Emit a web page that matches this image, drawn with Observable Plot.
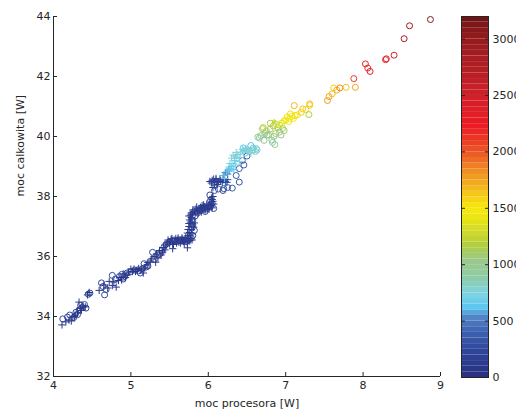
<!DOCTYPE html>
<html>
<head>
<meta charset="utf-8">
<script src="https://cdn.jsdelivr.net/npm/d3@7"></script>
<script src="https://cdn.jsdelivr.net/npm/@observablehq/plot@0.6"></script>
<style>
  html, body { margin: 0; padding: 0; background: #fff; }
  #chart { position: relative; width: 516px; height: 418px; overflow: hidden; }
  #chart svg { position: absolute; left: 0; top: 0; }
</style>
</head>
<body>
<div id="chart"></div>
<script>
// Axis ticks
const xTicks = [4, 5, 6, 7, 8, 9];
const yTicks = [32, 34, 36, 38, 40, 42, 44];
const barTicks = [0, 500, 1000, 1500, 2000, 2500, 3000];
const barMax = 3200;
const barSteps = 64;

// Colormap stops (load value -> colour)
const colorStops = [0, 240, 410, 530, 620, 740, 890, 1040, 1180, 1420, 1510, 1660, 1830, 1980, 2220, 2460, 2750, 3050, 3200];
const colorHex = ["#28307f", "#2f469b", "#3d63b0", "#5483c6", "#5bc8f0", "#7fd3e3", "#8fcba3", "#9ac98a", "#b5cf3a",
                  "#eee613", "#f6e70c", "#f3bd1b", "#f08d24", "#ec5a26", "#ec1c24", "#d4202a", "#b01f24", "#8e1a1c", "#6a1214"];

// Measurements: [CPU power W, total power W, load]
const circlePoints = [
  [4.12,33.92,270],[4.18,33.98,250],[4.21,34.05,280],[4.26,33.96,260],[4.29,34.14,240],[4.31,34.06,270],[4.33,34.22,250],
  [4.35,34.37,260],[4.37,34.3,230],[4.4,34.4,270],[4.42,34.28,250],[4.45,34.74,240],[4.47,34.78,270],
  [4.62,35.12,260],[4.66,34.72,270],[4.68,34.9,240],[4.64,35.0,250],[4.76,35.37,270],[4.8,35.25,250],
  [4.85,35.33,260],[4.88,35.4,250],[4.92,35.35,260],[4.95,35.45,240],[5.0,35.5,270],[5.05,35.55,250],[5.1,35.52,260],
  [5.15,35.6,240],[5.2,35.65,260],[4.9,35.25,250],[5.12,35.45,240],
  [5.17,35.76,260],[5.22,35.68,250],[5.28,36.14,270],[5.3,35.9,240],[5.35,36.05,260],[5.4,36.2,240],[5.43,36.33,270],[5.38,36.1,250],
  [5.46,36.42,200],[5.5,36.48,220],[5.53,36.52,190],[5.56,36.55,210],[5.6,36.5,200],[5.63,36.56,230],[5.66,36.52,200],
  [5.69,36.55,220],[5.72,36.5,210],[5.75,36.58,240],[5.78,36.62,260],
  [5.8,36.7,230],[5.82,36.87,270],[5.8,37.05,250],[5.8,37.2,260],[5.83,37.35,250],[5.79,36.95,220],
  [5.86,37.45,230],[5.9,37.55,250],[5.94,37.6,240],[5.98,37.58,260],[6.02,37.65,250],[6.07,37.6,270],[6.05,37.77,260],
  [6.03,37.88,250],[6.02,38.05,260],[5.96,37.5,240],
  [6.08,38.2,300],[6.13,38.25,320],[6.19,38.2,300],[6.2,38.26,330],[6.25,38.3,340],[6.31,38.28,350],[6.4,38.48,320],
  [6.4,38.93,380],[6.44,39.2,420],[6.46,39.05,400],[6.5,39.35,450],[6.36,38.7,360],
  [6.55,39.7,620],[6.53,39.5,650],[6.57,39.55,700],[6.61,39.5,750],[6.63,39.55,720],[6.48,39.45,680],[6.58,39.62,640],
  [6.62,39.6,800],[6.5,39.55,760],[6.45,39.62,640],
  [6.64,39.98,950],[6.68,40.03,1050],[6.7,40.26,1100],[6.72,39.87,980],[6.75,40.18,1080],[6.73,40.1,1000],[6.8,40.44,1150],
  [6.82,39.88,950],[6.85,40.0,1020],[6.86,39.73,900],[6.87,40.1,1100],[6.9,40.3,1150],[6.94,40.05,1050],[6.96,40.27,1120],
  [6.98,40.2,1100],[6.78,40.05,1030],[6.92,40.15,1000],[6.84,40.35,1180],
  [6.71,40.3,1200],[6.76,40.05,1000],[6.8,40.25,1150],[6.88,40.4,1250],[6.83,39.8,920],[6.92,40.38,1280],[6.66,39.95,900],
  [6.95,40.45,1380],[6.98,40.52,1450],[7.0,40.55,1500],[7.02,40.65,1480],[7.04,40.5,1420],[7.05,40.6,1520],[7.06,40.75,1540],
  [7.08,40.68,1500],[7.1,40.6,1470],[7.12,40.7,1550],[7.15,40.72,1520],[7.2,40.8,1580],[7.22,40.92,1620],[7.11,41.03,1680],
  [7.26,40.9,1560],[7.31,41.09,1650],[7.31,41.04,1600],[7.3,40.73,1180],
  [7.54,41.2,1800],[7.56,41.33,1750],[7.6,41.42,1650],[7.62,41.62,1600],[7.66,41.55,1700],[7.7,41.62,1850],[7.78,41.64,1620],
  [7.9,41.64,1760],[7.88,41.93,2100],
  [8.03,42.42,2200],[8.06,42.28,2150],[8.09,42.17,2350],[8.29,42.56,2250],[8.3,42.59,2280],[8.4,42.71,2400],
  [8.53,43.26,2800],[8.6,43.69,2950],[8.87,43.9,3100]
];

const plusPoints = [
  [4.11,33.72,60],[4.16,33.82,80],[4.2,33.88,70],[4.23,33.85,90],[4.25,33.98,60],[4.28,34.05,80],[4.31,34.12,70],[4.33,34.48,90],
  [4.36,34.2,60],[4.38,34.35,80],[4.41,34.32,70],[4.44,34.72,80],[4.46,34.8,60],[4.27,34.0,100],[4.35,34.27,80],
  [4.59,34.87,70],[4.65,35.05,80],[4.7,34.95,60],[4.76,35.03,90],[4.81,34.98,70],[4.78,35.15,80],[4.72,35.17,60],
  [4.84,35.2,70],[4.86,35.3,80],[4.9,35.42,60],[4.93,35.3,90],[4.97,35.48,70],[5.02,35.5,80],[5.04,35.58,60],[5.08,35.55,70],
  [5.12,35.55,90],[5.16,35.45,80],[5.18,35.62,60],[4.88,35.22,80],[4.95,35.38,70],
  [5.0,35.58,80],[5.06,35.5,70],[5.1,35.6,90],[5.14,35.58,70],[5.22,35.8,80],[5.27,35.92,70],[5.33,36.08,90],[5.37,36.2,80],[5.42,36.3,70],
  [5.21,35.72,70],[5.25,35.85,80],[5.32,35.81,60],[5.35,35.95,90],[5.39,36.05,70],[5.41,36.15,80],[5.44,36.22,60],[5.54,36.26,80],
  [5.3,36.0,70],[5.73,36.29,90],
  [5.47,36.46,100],[5.51,36.5,120],[5.54,36.45,110],[5.57,36.52,130],[5.6,36.55,100],[5.62,36.48,120],[5.65,36.55,110],
  [5.68,36.5,100],[5.7,36.58,130],[5.74,36.53,120],[5.77,36.6,110],[5.52,36.58,100],[5.58,36.6,120],[5.66,36.62,130],
  [5.45,36.38,110],[5.48,36.55,120],[5.5,36.42,100],[5.53,36.6,130],[5.55,36.4,110],[5.59,36.45,120],[5.61,36.62,100],
  [5.64,36.45,130],[5.67,36.58,110],[5.69,36.42,120],[5.71,36.64,100],[5.73,36.46,130],[5.76,36.52,110],[5.79,36.55,120],
  [5.74,36.7,120],[5.76,36.8,110],[5.78,36.9,130],[5.75,37.0,120],[5.79,37.08,100],[5.77,37.15,130],[5.78,37.3,120],
  [5.76,37.22,110],[5.8,37.4,130],[5.74,36.9,100],[5.77,37.38,120],
  [5.73,36.78,110],[5.79,36.75,120],[5.81,36.98,130],[5.75,37.1,110],[5.79,37.25,120],[5.75,37.35,100],[5.82,37.12,130],
  [5.78,37.45,130],[5.82,37.5,120],[5.84,37.58,140],[5.86,37.52,120],[5.88,37.6,130],[5.9,37.64,140],[5.93,37.56,120],
  [5.95,37.66,130],[5.97,37.62,140],[6.0,37.7,130],[6.02,37.78,140],[6.04,37.72,120],[6.05,37.9,130],[6.06,37.84,140],
  [5.92,37.7,120],[5.8,37.55,130],
  [5.8,37.48,120],[5.83,37.42,130],[5.85,37.65,120],[5.87,37.45,140],[5.89,37.52,120],[5.91,37.48,130],[5.94,37.72,140],
  [5.96,37.55,120],[5.99,37.6,130],[6.01,37.58,120],[6.03,37.68,140],[6.05,37.62,130],[6.07,37.75,120],[6.04,37.95,140],
  [6.06,38.0,130],[5.98,37.75,120],
  [6.02,38.5,150],[6.05,38.54,140],[6.08,38.48,160],[6.1,38.55,150],[6.13,38.5,170],[6.16,38.52,160],[6.19,38.55,180],
  [6.22,38.5,200],[6.25,38.56,220],[6.06,38.3,150],[6.12,38.4,170],
  [6.04,38.45,150],[6.07,38.58,160],[6.11,38.46,150],[6.15,38.58,170],[6.18,38.47,160],[6.21,38.58,190],[6.24,38.47,210],
  [6.08,38.38,160],[6.1,38.6,170],
  [6.2,38.7,400],[6.22,38.8,450],[6.25,38.75,480],[6.27,38.85,500],
  [6.19,38.7,600],[6.21,38.6,620],[6.24,38.82,650],[6.28,38.93,680],[6.3,39.0,700],[6.32,39.1,720],[6.36,39.27,740],
  [6.32,39.37,760],[6.36,39.47,780],[6.44,39.57,700],[6.4,39.17,720],[6.34,39.2,700],[6.3,39.28,750],[6.38,39.4,760],
  [6.42,39.45,720],[6.46,39.55,680],[6.5,39.6,700],[6.27,38.98,650],[6.33,38.9,620],
  [6.45,39.5,760],[6.48,39.58,800],[6.52,39.52,780],[6.55,39.45,820],[6.6,39.55,800],[6.28,39.1,680],[6.26,38.9,620],
  [6.35,39.05,700],[6.4,39.3,740]
];

const starPoints = [
  [6.85,40.5,1250],[6.35,39.35,750]
];

const colorScale = {type: "linear", domain: colorStops, range: colorHex};
const font = {fontFamily: "'DejaVu Sans', sans-serif", fontSize: "11px", color: "#262626", background: "transparent"};

const main = Plot.plot({
  width: 516,
  height: 418,
  marginLeft: 53,
  marginRight: 76,
  marginTop: 16,
  marginBottom: 42,
  style: {...font, background: "#fff"},
  x: {domain: [4, 9]},
  y: {domain: [32, 44]},
  color: colorScale,
  marks: [
    Plot.ruleY([32], {stroke: "#262626"}),
    Plot.ruleX([4], {stroke: "#262626"}),
    Plot.axisX(xTicks, {tickSize: -4, tickPadding: 9, label: null, stroke: "#262626"}),
    Plot.axisY(yTicks, {tickSize: -4, tickPadding: 7, label: null, stroke: "#262626"}),
    Plot.dot(circlePoints, {x: d => d[0], y: d => d[1], stroke: d => d[2], r: 3, strokeWidth: 1}),
    Plot.dot(plusPoints, {x: d => d[0], y: d => d[1], stroke: d => d[2], symbol: "plus", r: 2.5, strokeWidth: 1}),
    Plot.dot(starPoints, {x: d => d[0], y: d => d[1], stroke: d => d[2], symbol: "asterisk", r: 2.5, strokeWidth: 1}),
    Plot.text(["moc procesora [W]"], {frameAnchor: "bottom", dy: 27, lineAnchor: "middle", fill: "#262626"}),
    Plot.text(["moc calkowita [W]"], {frameAnchor: "left", dx: -33, rotate: -90, lineAnchor: "middle", fill: "#262626"})
  ]
});

// Colour bar: stepped bands of the colormap
const bands = d3.range(barSteps).map(i => ({lo: i * barMax / barSteps, hi: (i + 1) * barMax / barSteps}));

const bar = Plot.plot({
  width: 516,
  height: 418,
  marginLeft: 461,
  marginRight: 28,
  marginTop: 16,
  marginBottom: 41,
  style: font,
  x: {domain: [0, 1], axis: null},
  y: {domain: [0, barMax]},
  color: colorScale,
  marks: [
    Plot.rect(bands, {x1: 0, x2: 1, y1: "lo", y2: "hi", fill: d => (d.lo + d.hi) / 2}),
    Plot.frame({stroke: "#262626"}),
    Plot.axisY(barTicks, {anchor: "right", tickSize: -4, tickPadding: 8, tickFormat: d3.format("d"), label: null, stroke: "#262626"}),
    Plot.axisY(barTicks, {anchor: "left", tickSize: -4, tickFormat: () => "", label: null, stroke: "#262626"})
  ]
});

const chart = document.getElementById("chart");
chart.appendChild(main);
chart.appendChild(bar);
</script>
</body>
</html>
